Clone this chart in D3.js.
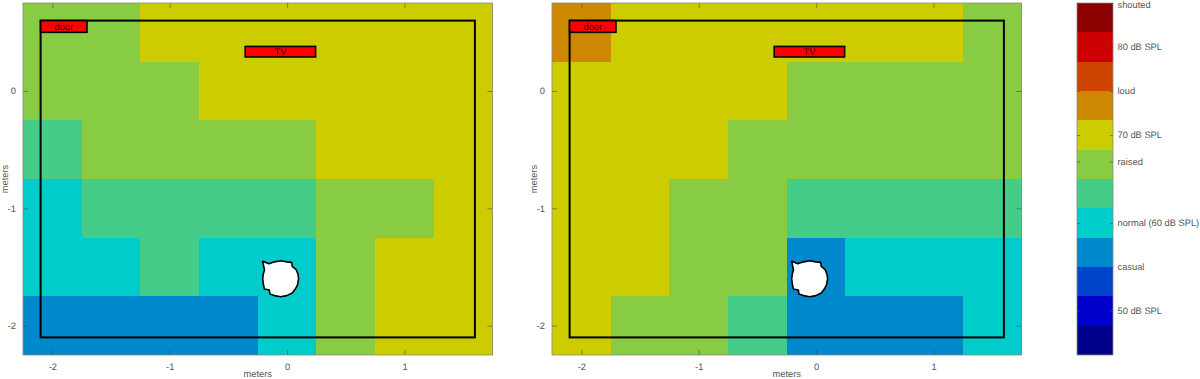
<!DOCTYPE html>
<html><head><meta charset="utf-8">
<script src="https://cdn.jsdelivr.net/npm/d3@7"></script>
<style>html,body{margin:0;padding:0;background:#fff}svg{display:block}text{font-family:"Liberation Sans",Arial,sans-serif;text-rendering:geometricPrecision}</style>
</head><body><svg id="c" width="1200" height="379"></svg>
<script>
// Sound level in dB SPL per 0.5 m grid cell, rows top to bottom
const leftGrid = [
  [67,67,70,70,70,70,70,70],
  [67,67,67,70,70,70,70,70],
  [63,67,67,67,67,70,70,70],
  [60,63,63,63,63,67,67,70],
  [60,60,63,60,60,67,70,70],
  [57,57,57,57,60,67,70,70]
];
const rightGrid = [
  [73,70,70,70,70,70,70,67],
  [70,70,70,70,67,67,67,67],
  [70,70,70,67,67,67,67,67],
  [70,70,67,67,63,63,63,63],
  [70,70,67,67,57,60,60,60],
  [70,67,67,63,57,57,57,60]
];
const xEdges = [-2.25,-1.75,-1.25,-0.75,-0.25,0.25,0.75,1.25,1.75];
const yEdges = [0.75,0.25,-0.25,-0.75,-1.25,-1.75,-2.25];
const xTicks = [-2,-1,0,1];
const yTicks = [0,-1,-2];
const colors = ["#00008b","#0000cc","#0044cc","#0088cc","#00cccc","#44cc88","#88cc44","#cccc00","#cc8800","#cc4400","#cc0000","#8b0000"];
const cbarTicks = [85,80,75,70,67,60,55,50];
const cbarLabels = ["shouted","80 dB SPL","loud","70 dB SPL","raised","normal (60 dB SPL)","casual","50 dB SPL"];
const room = {x0:-2.1,x1:1.6,y0:-2.1,y1:0.6};
const door = {x0:-2.1,x1:-1.705,y0:0.5,y1:0.6,label:"door"};
const tv = {x0:-0.357,x1:0.243,y0:0.29,y1:0.38,label:"TV"};
const head = {x:-0.055,y:-1.6};
// head outline: [bearing in degrees, radius in metres]
const headOutline = [[-46,.213],[-38,.162],[-20,.153],[0,.153],[20,.153],[34,.168],[43,.145],[60,.153],[75,.153],[90,.153],[110,.153],[125,.153],[141,.157],[160,.153],[180,.153],[200,.153],[215,.159],[225,.136],[238,.164],[255,.153],[270,.153],[285,.153],[299,.157]];

const svg = d3.select("#c");
const domainColor = d3.scaleQuantize().domain([45,85]).range(colors);
const grey = "#555";
const fs = 9.3;
const tickFmt = d => String(d);

function panel(px0, grid){
  const px1 = px0 + 469.5;
  const x = d3.scaleLinear().domain([-2.25,1.75]).range([px0,px1]);
  const y = d3.scaleLinear().domain([0.75,-2.25]).range([3,355]);
  const g = svg.append("g");
  grid.forEach((row,r)=>{
    g.selectAll(null).data(row).join("rect")
      .attr("shape-rendering","crispEdges")
      .attr("x",(d,c)=>x(xEdges[c])).attr("y",y(yEdges[r]))
      .attr("width",(d,c)=>x(xEdges[c+1])-x(xEdges[c]))
      .attr("height",y(yEdges[r+1])-y(yEdges[r]))
      .attr("fill",d=>domainColor(d));
  });
  const style = (a,noText)=>{
    a.selectAll(".tick line").attr("stroke","#444").attr("stroke-opacity",.55);
    a.selectAll("text").attr("fill",grey).attr("font-size",fs);
    if(noText) a.selectAll("text").remove();
  };
  g.append("g").attr("transform","translate(0,355)")
    .call(d3.axisBottom(x).tickValues(xTicks).tickFormat(tickFmt).tickSizeInner(-5).tickSizeOuter(0).tickPadding(8)).call(style);
  g.append("g").attr("transform","translate(0,3)")
    .call(d3.axisTop(x).tickValues(xTicks).tickSizeInner(-5).tickSizeOuter(0)).call(a=>style(a,true));
  g.append("g").attr("transform",`translate(${px0},0)`)
    .call(d3.axisLeft(y).tickValues(yTicks).tickFormat(tickFmt).tickSizeInner(-5).tickSizeOuter(0).tickPadding(7)).call(style);
  g.append("g").attr("transform",`translate(${px1},0)`)
    .call(d3.axisRight(y).tickValues(yTicks).tickSizeInner(-5).tickSizeOuter(0)).call(a=>style(a,true));
  g.selectAll(".domain").remove();
  g.append("rect").attr("x",px0).attr("y",3).attr("width",px1-px0).attr("height",352)
    .attr("fill","none").attr("stroke","#8a8a80").attr("stroke-width",.8);

  g.append("text").attr("x",(px0+px1)/2).attr("y",376.8).attr("text-anchor","middle").attr("font-size",fs).attr("fill",grey).text("meters");
  g.append("text").attr("transform",`translate(${px0-15},179) rotate(-90)`).attr("text-anchor","middle").attr("font-size",fs).attr("fill",grey).text("meters");

  g.append("rect").attr("x",x(room.x0)).attr("y",y(room.y1))
    .attr("width",x(room.x1)-x(room.x0)).attr("height",y(room.y0)-y(room.y1))
    .attr("fill","none").attr("stroke","#000").attr("stroke-width",2);
  [door,tv].forEach(o=>{
    g.append("rect").attr("x",x(o.x0)).attr("y",y(o.y1))
      .attr("width",x(o.x1)-x(o.x0)).attr("height",y(o.y0)-y(o.y1))
      .attr("fill","#ff0000").attr("stroke","#000").attr("stroke-width",1.6);
    g.append("text").attr("x",(x(o.x0)+x(o.x1))/2).attr("y",(y(o.y0)+y(o.y1))/2+3.5)
      .attr("text-anchor","middle").attr("font-size",fs).attr("fill","#300").text(o.label);
  });
  const rad = d=>d[0]*Math.PI/180;
  const line = d3.line().x(d=>x(head.x+d[1]*Math.sin(rad(d)))).y(d=>y(head.y+d[1]*Math.cos(rad(d)))).curve(d3.curveLinearClosed);
  g.append("path").attr("d",line(headOutline)).attr("fill","#fff").attr("stroke","#000").attr("stroke-width",1.6).attr("stroke-linejoin","round");
}
panel(23,leftGrid);
panel(552,rightGrid);

// colour bar
const cb = d3.scaleLinear().domain([85,45]).range([3,355]);
const cbg = svg.append("g");
const step = 40/colors.length;
cbg.selectAll(null).data(colors).join("rect")
  .attr("shape-rendering","crispEdges")
  .attr("x",1077).attr("width",36)
  .attr("y",(d,i)=>cb(45+(i+1)*step)).attr("height",(d,i)=>cb(45+i*step)-cb(45+(i+1)*step))
  .attr("fill",d=>d);
cbg.append("rect").attr("x",1077).attr("y",3).attr("width",36).attr("height",352).attr("fill","none").attr("stroke","#8a8a80").attr("stroke-width",.8);
const cbAxis = cbg.append("g").attr("transform","translate(1113,0)")
  .call(d3.axisRight(cb).tickValues(cbarTicks).tickFormat((d,i)=>cbarLabels[i]).tickSizeInner(-3).tickSizeOuter(0).tickPadding(4.5));
cbAxis.select(".domain").remove();
cbAxis.selectAll("text").attr("font-size",fs).attr("fill",grey);
cbAxis.selectAll(".tick").filter(d=>d===85).select("text").attr("dy","0.5em");
cbAxis.selectAll("line").attr("stroke","#444").attr("stroke-opacity",.55);
const cbAxisL = cbg.append("g").attr("transform","translate(1077,0)")
  .call(d3.axisLeft(cb).tickValues(cbarTicks).tickFormat("").tickSizeInner(-3).tickSizeOuter(0));
cbAxisL.select(".domain").remove();
cbAxisL.selectAll("line").attr("stroke","#444").attr("stroke-opacity",.55);
</script></body></html>
